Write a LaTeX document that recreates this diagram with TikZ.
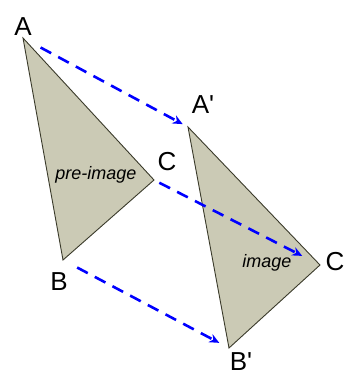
\documentclass[tikz,border=0pt]{standalone}
\usepackage{fontspec}
\setmainfont{Liberation Sans}
\usetikzlibrary{arrows.meta}
\definecolor{shade}{HTML}{CBCAB5}
\definecolor{edge}{HTML}{3A3A2A}
\definecolor{move}{HTML}{0000FF}
\tikzset{
  tri/.style={fill=shade, draw=edge, line width=0.9pt},
  vtx/.style={font=\fontsize{26}{26}\selectfont, inner sep=0pt},
  lbl/.style={font=\itshape\fontsize{18}{18}\selectfont, inner sep=0pt},
  slide/.style={-{Stealth[length=10pt,width=9pt]}, draw=move, line width=2.6pt,
                dash pattern=on 12pt off 8pt}
}
\begin{document}
\begin{tikzpicture}[x=1pt,y=-1pt]
  \useasboundingbox (0,0) rectangle (346,376);

  % corners
  \coordinate (A) at (23,38);  \coordinate (C) at (154,180);  \coordinate (B) at (63,260);
  \coordinate (A2) at (188,127); \coordinate (C2) at (320,265); \coordinate (B2) at (229,348);

  \draw[tri] (A) -- (C) -- (B) -- cycle;
  \draw[tri] (A2) -- (C2) -- (B2) -- cycle;

  \node[lbl] (pre) at (96,175) {pre-image};
  \node[lbl] (img) at (267,263) {image};

  \draw[slide, shorten <=20pt, shorten >=6pt] (A) -- (A2);
  \draw[slide, shorten <=6pt, shorten >=20pt] (C) -- (C2);
  \draw[slide, shorten <=16pt, shorten >=11pt] (B) -- (B2);

  \node[vtx] (lA) at (23,27) {A};
  \node[vtx] (lC) at (167,162) {C};
  \node[vtx] (lB) at (59,282) {B};
  \node[vtx] (lA2) at (203,105) {A\textquotesingle};
  \node[vtx] (lC2) at (335,262) {C};
  \node[vtx] (lB2) at (241,362) {B\textquotesingle};
\end{tikzpicture}
\end{document}
